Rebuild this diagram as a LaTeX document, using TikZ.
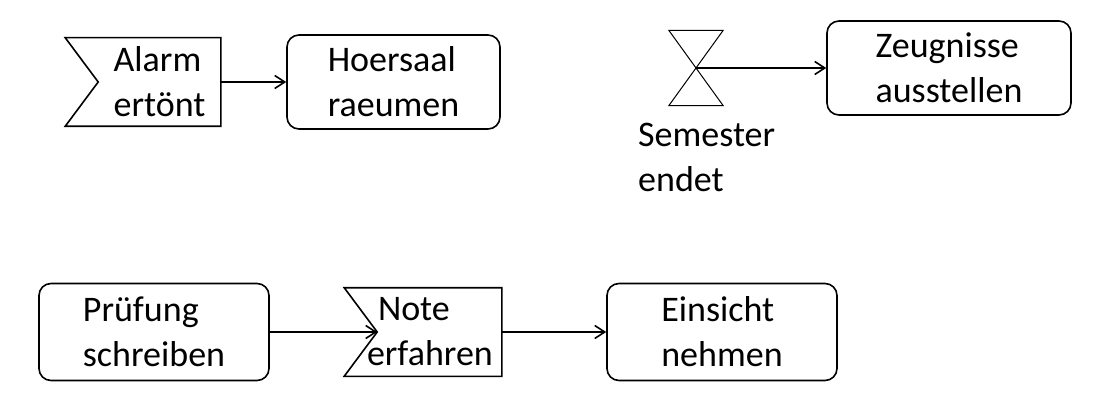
\documentclass[tikz,border=0pt]{standalone}
\usepackage{fontspec}
\setmainfont{Carlito}
\usetikzlibrary{arrows.meta}

\tikzset{
    txt/.style={inner sep=0pt, align=left, font=\fontsize{36}{45}\selectfont},
    proc/.style={txt, draw, rounded corners=12pt, line width=1.6pt},
    event/.style={txt, line width=1.6pt},
    flow/.style={-{Straight Barb[length=10pt,width=13pt]}, line width=1.6pt}
}

\begin{document}
\begin{tikzpicture}[x=1pt, y=-1pt]
    \useasboundingbox (0, 0) rectangle (1100, 406);
    % top left
    \node[event, minimum width=121pt, minimum height=87pt] (alarm) at (159.5, 82) {Alarm\\ertönt};
    \draw[line width=1.6pt] (alarm.north east) -- ([xshift=-33pt]alarm.north west) -- (alarm.west)
        -- ([xshift=-33pt]alarm.south west) -- (alarm.south east) -- cycle;
    \node[proc, minimum width=213pt, minimum height=94pt] (hoer) at (393.5, 82) {Hoersaal\\raeumen};
    \draw[flow] (alarm) -- (hoer);
    % top right
    \node[minimum width=54pt, minimum height=75pt, inner sep=0pt] (sem) at (696, 68) {};
    \draw[line width=1pt] (sem.north west) -- (sem.north east) -- (sem.south west) -- (sem.south east) -- cycle;
    \node[txt, anchor=base west] (semtxt) at (638, 192) {Semester\\endet};
    \node[proc, minimum width=244pt, minimum height=94pt] (zeug) at (949, 68) {Zeugnisse\\ausstellen};
    \draw[flow] (sem.center) -- (zeug);
    % bottom
    \node[proc, minimum width=230pt, minimum height=97pt] (prf) at (154, 332) {Prüfung\\schreiben};
    \node[event, inner xsep=-11pt, text width=145pt, minimum height=87pt] (note) at (439.5, 332) {\hspace*{11pt}Note\\erfahren};
    \draw[line width=1.6pt] (note.north east) -- ([xshift=-33pt]note.north west) -- (note.west)
        -- ([xshift=-33pt]note.south west) -- (note.south east) -- cycle;
    \node[proc, minimum width=230pt, minimum height=97pt] (ein) at (722, 332) {Einsicht\\nehmen};
    \draw[flow] (prf) -- (note.west);
    \draw[flow] (note) -- (ein);
\end{tikzpicture}
\end{document}
